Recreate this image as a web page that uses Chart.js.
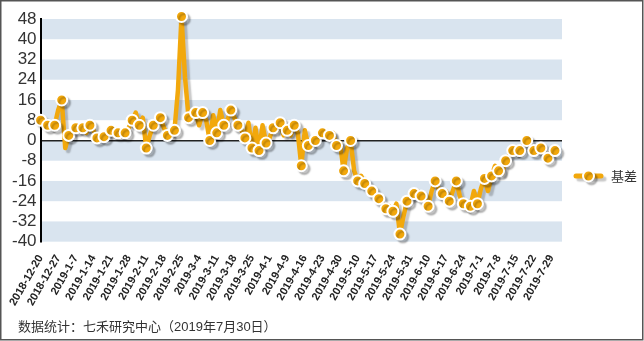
<!DOCTYPE html>
<html>
<head>
<meta charset="utf-8">
<script src="https://cdn.jsdelivr.net/npm/chart.js@4/dist/chart.umd.min.js"></script>
<style>
html, body { margin:0; padding:0; background:#fff; }
#wrap { position:relative; width:644px; height:341px; }
#basisChart { display:block; }
#note {
  position:absolute; left:18px; top:316px;
  font:13px "Liberation Sans", "Noto Sans CJK SC", sans-serif;
  color:#333; white-space:nowrap;
}
</style>
</head>
<body>
<div id="wrap">
  <canvas id="basisChart" width="644" height="341"></canvas>
  <div id="note">数据统计：七禾研究中心（2019年7月30日）</div>
</div>
<script>

// =====================================
// DATA
// =====================================

// one tick label every 5 trading days
const tickLabels = [
  "2018-12-20","2018-12-27","2019-1-7","2019-1-14","2019-1-21",
  "2019-1-28","2019-2-11","2019-2-18","2019-2-25","2019-3-4",
  "2019-3-11","2019-3-18","2019-3-25","2019-4-1","2019-4-9",
  "2019-4-16","2019-4-23","2019-4-30","2019-5-10","2019-5-17",
  "2019-5-24","2019-5-31","2019-6-10","2019-6-17","2019-6-24",
  "2019-7-1","2019-7-8","2019-7-15","2019-7-22","2019-7-29"
];

const seriesName = "基差";

// daily basis values
const basis = [
  8, 7, 6, 7, 6, 12, 16, -3, 2, 3,
  5, 4, 5, 3, 6, 4, 1, 2, 1.5, 3,
  4, 2, 3, 2, 3, 5, 8, 11, 6, 9,
  -3, 2, 6, 7, 9, 5, 2, 3, 4, 20,
  49, 25, 9, 12, 11, 6, 11, 8, 0, 10,
  3, 12, 6, 8, 12, 9, 6, 4, 1, 7,
  -3, 5, -4, 6, -1, 1, 5, 4, 7, 2,
  4, 2, 6, 3, -10, 4, -2, 0, 0, 2,
  3, 3, 2, 3, -2, -1, -12, -3, 0, -12,
  -16, -14, -17, -18, -20, -21, -23, -25, -27, -26,
  -28, -25, -37, -30, -24, -23, -21, -20, -22, -23,
  -26, -20, -16, -19, -21, -20, -24, -20, -16, -22,
  -25, -27, -26, -20, -25, -19, -15, -20, -14, -10,
  -12, -13, -8, -6, -4, -5, -4, -2, 0, -2,
  -4, -3, -3, -5, -7, -4, -4
];

const yMin = -40;
const yMax = 48;
const yStep = 8;


// =====================================
// PLUGINS
// =====================================

const LINE_COLOR = "#F2A80C";

const bandsPlugin = {

  id:"bands",

  beforeDraw(chart){

    const { ctx, chartArea, scales } = chart;
    const y = scales.y;

    ctx.save();
    ctx.fillStyle = "#D9E4EF";

    // blue band on every other step, from the top down
    for(let v = yMax; v > yMin; v -= yStep * 2){

      const top = y.getPixelForValue(v);
      const bottom = y.getPixelForValue(v - yStep);

      ctx.fillRect(
        chartArea.left,
        top,
        chartArea.right - chartArea.left,
        bottom - top
      );

    }

    ctx.restore();

  }

};

const shadowPlugin = {

  id:"shadow",

  beforeDatasetsDraw(chart){

    const ctx = chart.ctx;

    ctx.save();
    ctx.shadowColor = "rgba(0,0,0,0.22)";
    ctx.shadowOffsetX = 3;
    ctx.shadowOffsetY = 3;
    ctx.shadowBlur = 1.5;

  },

  afterDatasetsDraw(chart){

    chart.ctx.restore();

  }

};

const legendPlugin = {

  id:"sideLegend",

  afterDraw(chart){

    const ctx = chart.ctx;
    const x0 = 576, x1 = 601, cy = 176;

    ctx.save();

    ctx.shadowColor = "rgba(0,0,0,0.22)";
    ctx.shadowOffsetX = 3;
    ctx.shadowOffsetY = 3;
    ctx.shadowBlur = 1.5;

    ctx.strokeStyle = LINE_COLOR;
    ctx.lineWidth = 5;
    ctx.lineCap = "round";
    ctx.beginPath();
    ctx.moveTo(x0, cy);
    ctx.lineTo(x1, cy);
    ctx.stroke();

    ctx.beginPath();
    ctx.arc((x0 + x1) / 2, cy, 5.5, 0, Math.PI * 2);
    ctx.fillStyle = LINE_COLOR;
    ctx.fill();
    ctx.lineWidth = 2;
    ctx.strokeStyle = "#fff";
    ctx.stroke();

    ctx.restore();

    ctx.save();
    ctx.fillStyle = "#333";
    ctx.font = "13px 'Noto Sans CJK SC', sans-serif";
    ctx.textBaseline = "middle";
    ctx.fillText(seriesName, 611, cy);
    ctx.restore();

    // outer frame
    ctx.save();
    ctx.strokeStyle = "#555";
    ctx.lineWidth = 1.5;
    ctx.strokeRect(0.75, 0.75, 642, 339);
    ctx.restore();

  }

};


// =====================================
// CHART
// =====================================

const ctx =
  document.getElementById("basisChart").getContext("2d");

new Chart(ctx, {

  type:"line",

  data:{

    datasets:[

      {

        label:seriesName,

        data:basis.map((v, i) => ({ x:i, y:v })),

        borderColor:LINE_COLOR,
        borderWidth:4.5,
        borderJoinStyle:"round",
        tension:0,

        pointRadius:c => c.dataIndex % 2 === 0 ? 5.5 : 0,
        pointBackgroundColor:LINE_COLOR,
        pointBorderColor:"#fff",
        pointBorderWidth:2,

        clip:false

      }

    ]

  },

  options:{

    responsive:false,
    animation:false,

    layout:{
      padding:{ left:8, right:82, top:19, bottom:30 }
    },

    plugins:{
      legend:{ display:false },
      tooltip:{ enabled:false }
    },

    scales:{

      x:{
        type:"linear",
        min:0,
        max:basis.length + 1,
        grid:{ display:false },
        border:{ display:false },
        ticks:{
          stepSize:5,
          includeBounds:false,
          maxTicksLimit:60,
          autoSkip:false,
          minRotation:60,
          maxRotation:60,
          padding:3,
          color:"#222",
          font:{ family:"'Liberation Sans', Arial", size:11, weight:"bold" },
          callback:v => v % 5 === 0 ? (tickLabels[v / 5] || "") : ""
        }
      },

      y:{
        min:yMin,
        max:yMax,
        grid:{
          drawTicks:false,
          color:c => c.tick.value === 0 ? "#222" : "rgba(0,0,0,0)",
          lineWidth:1.5
        },
        border:{ display:true, color:"#000", width:2 },
        ticks:{
          stepSize:yStep,
          autoSkip:false,
          maxTicksLimit:20,
          padding:4,
          color:"#333",
          font:{ family:"'Liberation Sans', Arial", size:17 }
        }
      }

    }

  },

  plugins:[ bandsPlugin, shadowPlugin, legendPlugin ]

});

</script>
</body>
</html>
